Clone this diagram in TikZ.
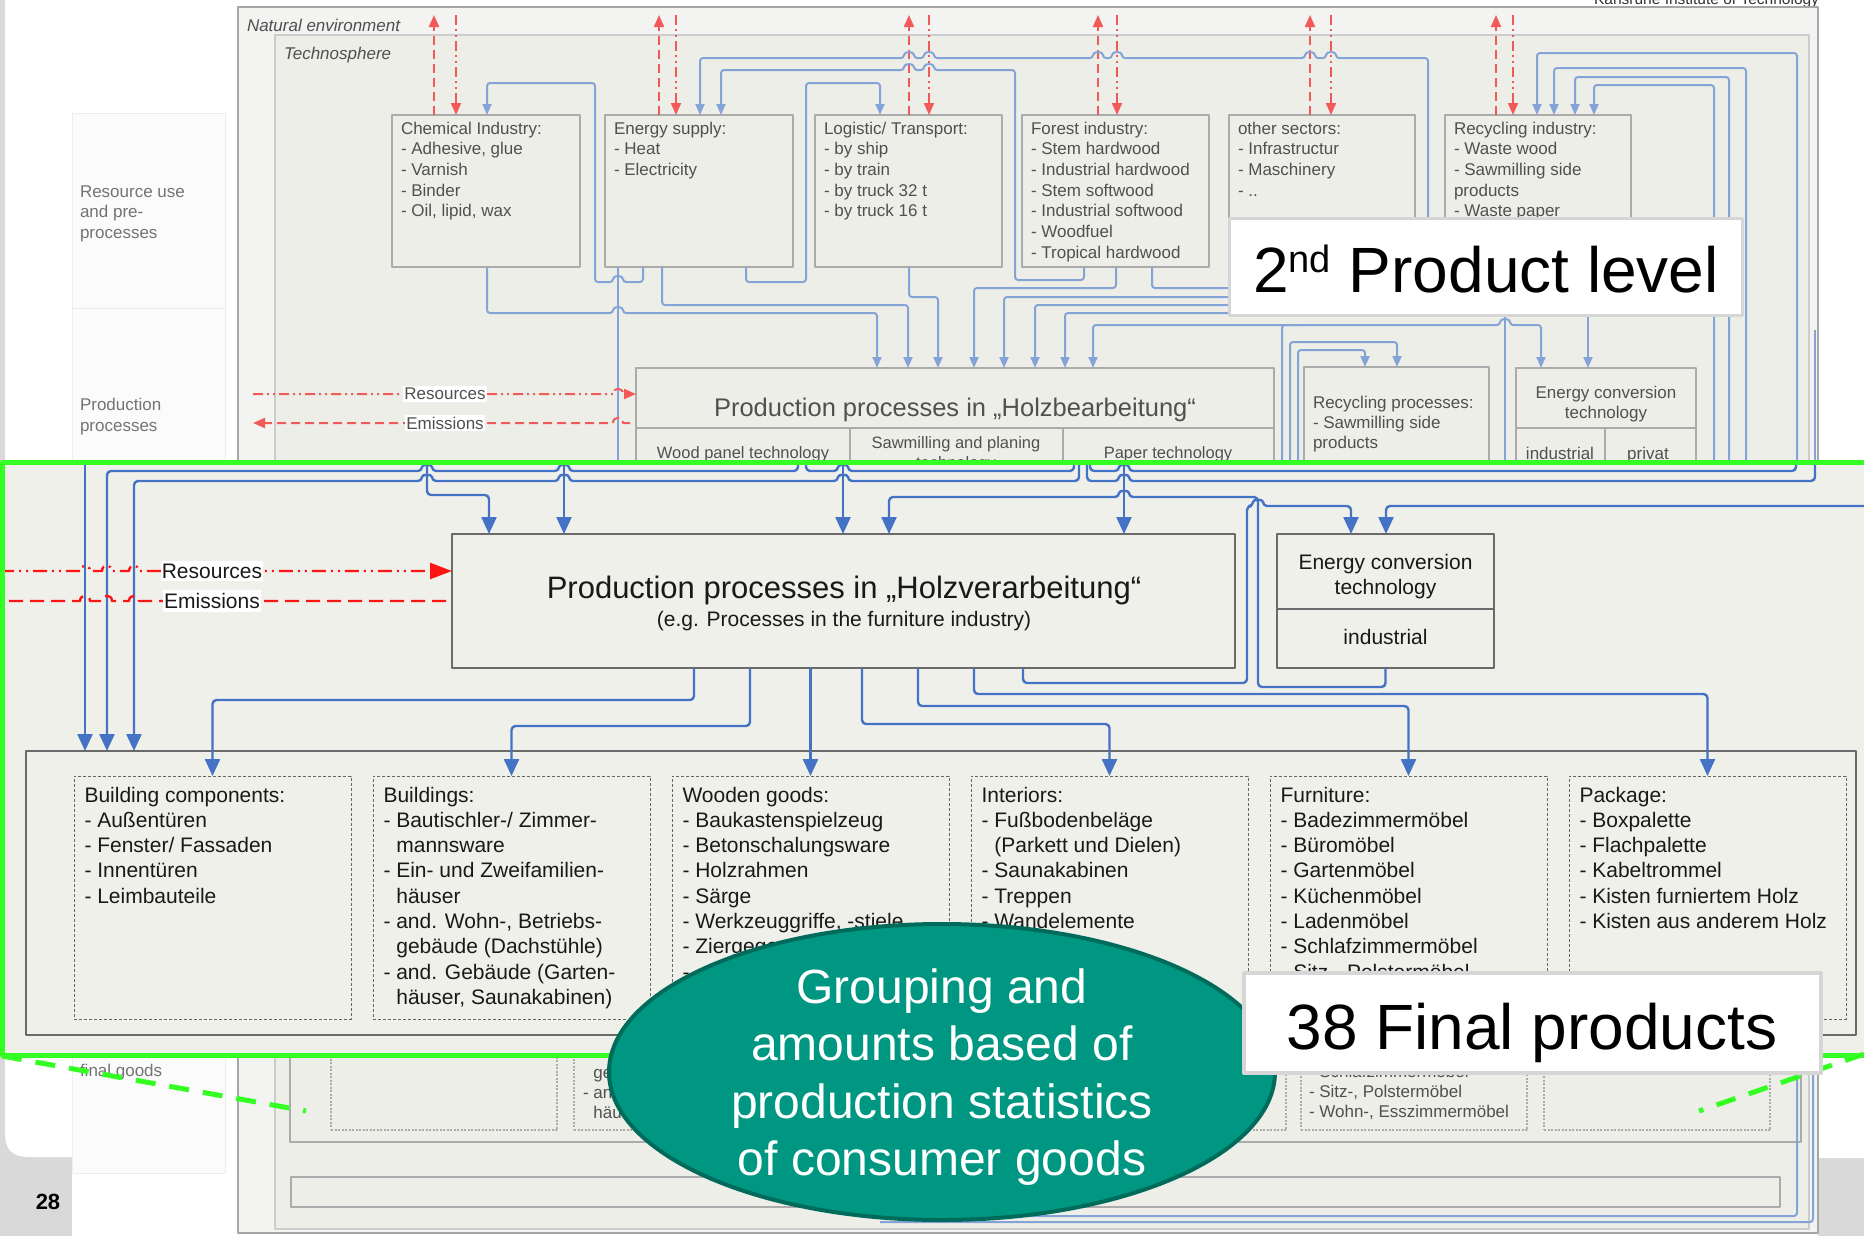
\documentclass[tikz,border=0pt]{standalone}
\usepackage{fontspec}
\setmainfont{Liberation Sans}
\usetikzlibrary{arrows.meta,shapes.geometric,fit}

\definecolor{pagegray}{HTML}{D9D9D9}
\definecolor{envfill}{HTML}{F3F3F1}
\definecolor{techfill}{HTML}{EEEEE8}
\definecolor{panelfill}{HTML}{FBFBFB}
\definecolor{zonefill}{HTML}{F0F0EA}
\definecolor{hilite}{HTML}{33FF22}
\definecolor{flow}{HTML}{4472C4}
\definecolor{fadeflow}{HTML}{84A4D8}
\definecolor{redflow}{HTML}{FF1414}
\definecolor{fadered}{HTML}{F25A5A}
\definecolor{fadeline}{HTML}{ABABAB}
\definecolor{fadetext}{HTML}{505050}
\definecolor{boxline}{HTML}{6A6A6A}
\definecolor{tealfill}{HTML}{009782}
\definecolor{tealline}{HTML}{006B5B}
\definecolor{calloutline}{HTML}{D6D6D6}

% a small arc where a horizontal line jumps over a vertical one
\newcommand{\hopR}[2]{-- ({#1-5},#2) .. controls ({#1-5},{#2-7}) and ({#1+5},{#2-7}) .. ({#1+5},#2)}
\newcommand{\hopL}[2]{-- ({#1+5},#2) .. controls ({#1+5},{#2-7}) and ({#1-5},{#2-7}) .. ({#1-5},#2)}

% lines of text, one node per line: prefix, x, first baseline, line skip, style, lines
\newcommand{\txtstack}[6]{%
  \foreach \itm [count=\k from 0] in {#6} {%
    \node[#5, anchor=base west] (#1-\k) at (#2,{#3+\k*#4}) {\itm};%
  }%
}

\begin{document}
\begin{tikzpicture}[x=1pt, y=-1pt, line join=round,
  every node/.style={inner sep=0pt, outer sep=0pt},
  crisp/.style={font=\fontsize{21}{25}\selectfont, text=black!90},
  faded/.style={font=\fontsize{17}{20}\selectfont, text=fadetext},
  fadebox/.style={draw=fadeline, line width=1.3pt, fill=techfill},
  solidbox/.style={draw=boxline, line width=1.6pt, fill=zonefill},
  dashbox/.style={draw=black!60, line width=0.9pt, dash pattern=on 3pt off 2pt},
  flowline/.style={draw=flow, line width=2.4pt, rounded corners=4pt},
  flowarrow/.style={flowline, -{Triangle[width=15pt,length=17pt]}},
  fline/.style={draw=fadeflow, line width=2pt, rounded corners=3pt},
  farrow/.style={fline, -{Triangle[width=9pt,length=11pt]}},
  fboth/.style={fline, {Triangle[width=9pt,length=11pt]}-{Triangle[width=9pt,length=11pt]}},
  resline/.style={draw=redflow, line width=2.4pt, dash pattern=on 14pt off 5pt on 2pt off 5pt on 2pt off 5pt},
  emline/.style={draw=redflow, line width=2.4pt, dash pattern=on 14pt off 7pt},
  fres/.style={draw=fadered, line width=2pt, dash pattern=on 10pt off 4pt on 2pt off 4pt on 2pt off 4pt},
  fem/.style={draw=fadered, line width=2pt, dash pattern=on 9pt off 5pt},
  fredarrow/.style={-{Triangle[width=10pt,length=12pt]}},
  greendash/.style={draw=hilite, line width=5pt, dash pattern=on 20pt off 14pt},
]
\useasboundingbox (0,0) rectangle (1864,1235);
\clip (0,0) rectangle (1864,1235);

% ---------- slide page ----------
\fill[pagegray] (-5,-5) rectangle (1870,1240);
\fill[white] (5,-5) -- (5,1132) .. controls (5,1150) and (12,1157) .. (30,1157)
  -- (72,1157) -- (72,1240) -- (1818,1240) -- (1818,1158) -- (1870,1158) -- (1870,-5) -- cycle;
\node[font=\fontsize{15.5}{16}\selectfont, text=black!80, anchor=base east] (kit) at (1819,4) {Karlsruhe Institute of Technology};
\node[font=\bfseries\fontsize{22}{22}\selectfont, anchor=base] (pageno) at (48,1209) {28};

% ---------- row labels ----------
\node[fit={(72,113) (225,1173)}, draw=black!7, line width=1pt, fill=panelfill] (panel) {};
\draw[black!8, line width=1pt] (panel.west |- 0,308) -- (panel.east |- 0,308);
\txtstack{lblres}{80}{197}{20.5}{faded, text=black!55}{{Resource use},{and pre-},{processes}}
\txtstack{lblprod}{80}{410}{21}{faded, text=black!55}{{Production},{processes}}
\txtstack{lblfin}{80}{1076}{21}{faded, text=black!55}{{final goods}}

% ---------- system frames ----------
\node[fit={(238,7) (1818,1233)}, draw=black!35, line width=1.5pt, fill=envfill] (natenv) {};
\node[fit={(275,35) (1809,1229)}, draw=black!20, line width=1.2pt, fill=techfill] (techno) {};
\node[faded, font=\itshape\fontsize{17}{20}\selectfont, anchor=base west] (natlbl) at (247,31) {Natural environment};
\node[faded, font=\itshape\fontsize{17}{20}\selectfont, anchor=base west] (techlbl) at (284,59) {Technosphere};

% ---------- resource and pre-process boxes ----------
\node[fit={(392,115) (580,267)}, fadebox] (chem) {};
\node[fit={(605,115) (793,267)}, fadebox] (esup) {};
\node[fit={(815,115) (1002,267)}, fadebox] (logi) {};
\node[fit={(1022,115) (1209,267)}, fadebox] (forest) {};
\node[fit={(1229,115) (1415,267)}, fadebox] (other) {};
\node[fit={(1445,115) (1631,267)}, fadebox] (recyc) {};
\txtstack{chemtxt}{401}{134}{20.7}{faded}{{Chemical Industry:},{- Adhesive, glue},{- Varnish},{- Binder},{- Oil, lipid, wax}}
\txtstack{esuptxt}{614}{134}{20.7}{faded}{{Energy supply:},{- Heat},{- Electricity}}
\txtstack{logitxt}{824}{134}{20.7}{faded}{{Logistic/ Transport:},{- by ship},{- by train},{- by truck 32 t},{- by truck 16 t}}
\txtstack{foresttxt}{1031}{134}{20.7}{faded}{{Forest industry:},{- Stem hardwood},{- Industrial hardwood},{- Stem softwood},{- Industrial softwood},{- Woodfuel},{- Tropical hardwood}}
\txtstack{othertxt}{1238}{134}{20.7}{faded}{{other sectors:},{- Infrastructur},{- Maschinery},{- ..}}
\txtstack{recyctxt}{1454}{134}{20.7}{faded}{{Recycling industry:},{- Waste wood},{- Sawmilling side},{products},{- Waste paper}}

% exchanges with the natural environment
\foreach \b/\upx/\dnx in {chem/434/456, esup/659/676, logi/909/929, forest/1098/1117, other/1310/1331, recyc/1496/1513} {
  \draw[fem, fredarrow] (\b.north -| \upx,0) -- (\upx,15);
  \draw[fres, fredarrow] (\dnx,15) -- (\b.north -| \dnx,0);
}

% ---------- upper production row ----------
\node[fit={(636,368) (1274,480)}, fadebox] (holzb) {};
\draw[fadeline, line width=1.3pt] (holzb.west |- 0,428) -- (holzb.east |- 0,428);
\draw[fadeline, line width=1.3pt] (850,428) -- (850,480);
\draw[fadeline, line width=1.3pt] (1063,428) -- (1063,480);
\node[faded, font=\fontsize{25.5}{28}\selectfont, anchor=base] (holzbtitle) at (955,416) {Production processes in „Holzbearbeitung“};
\node[faded, font=\fontsize{16.5}{20}\selectfont, anchor=base] (wpt) at (743,458) {Wood panel technology};
\node[faded, font=\fontsize{16.5}{20}\selectfont, anchor=base] (smp) at (956,448) {Sawmilling and planing};
\node[faded, font=\fontsize{16.5}{20}\selectfont, anchor=base] (smpb) at (956,468) {technology};
\node[faded, font=\fontsize{16.5}{20}\selectfont, anchor=base] (ppt) at (1168,458) {Paper technology};

\node[fit={(1304,367) (1489,480)}, fadebox] (recproc) {};
\txtstack{rptxt}{1313}{408}{20}{faded}{{Recycling processes:},{- Sawmilling side},{products}}

\node[fit={(1516,368) (1696,480)}, fadebox] (encup) {};
\draw[fadeline, line width=1.3pt] (encup.west |- 0,428) -- (encup.east |- 0,428);
\draw[fadeline, line width=1.3pt] (1605,428) -- (1605,480);
\node[faded, anchor=base] (encupa) at (1606,398) {Energy conversion};
\node[faded, anchor=base] (encupb) at (1606,418) {technology};
\node[faded, anchor=base] (encupc) at (1560,459) {industrial};
\node[faded, anchor=base] (encupd) at (1648,459) {privat};

% upper flows
\draw[fline] (esup.south -| 618,0) -- (618,462);
\draw[farrow] (chem.south -| 487,0) -- (487,313) \hopR{618}{313} -- (877,313) -- (holzb.north -| 877,0);
\draw[farrow] (esup.south -| 662,0) -- (662,305) -- (908,305) -- (holzb.north -| 908,0);
\draw[farrow] (esup.south -| 643,0) -- (643,282) \hopL{618}{282} -- (595,282) -- (595,83) -- (487,83) -- (chem.north -| 487,0);
\draw[farrow] (logi.south -| 909,0) -- (909,297) -- (938,297) -- (holzb.north -| 938,0);
\draw[farrow] (esup.south -| 746,0) -- (746,282) -- (806,282) -- (806,83) -- (880,83) -- (logi.north -| 880,0);
\draw[farrow] (1428,240) -- (1428,58) \hopL{1331}{58} \hopL{1310}{58} \hopL{1117}{58} \hopL{1098}{58} \hopL{929}{58} \hopL{909}{58} -- (700,58) -- (esup.north -| 700,0);
\draw[farrow] (forest.south -| 1084,0) -- (1084,280) -- (1015,280) -- (1015,70) \hopL{929}{70} \hopL{909}{70} -- (721,70) -- (esup.north -| 721,0);
\draw[farrow] (forest.south -| 1116,0) -- (1116,288) -- (974,288) -- (holzb.north -| 974,0);
\draw[fline] (forest.south -| 1152,0) -- (1152,288) -- (1240,288);
\draw[farrow] (1240,297) -- (1004,297) -- (holzb.north -| 1004,0);
\draw[farrow] (1240,305) -- (1035,305) -- (holzb.north -| 1035,0);
\draw[farrow] (1240,313) -- (1065,313) -- (holzb.north -| 1065,0);
\draw[fboth] (holzb.north -| 1093,0) -- (1093,325) \hopR{1505}{325} -- (1541,325) -- (encup.north -| 1541,0);
\draw[fline] (1282,462) -- (1282,325) -- (1300,325);
\draw[fline] (1505,300) -- (1505,462);
\draw[farrow] (1588,300) -- (encup.north -| 1588,0);
\draw[farrow] (1298,462) -- (1298,350) -- (1365,350) -- (recproc.north -| 1365,0);
\draw[farrow] (1290,462) -- (1290,342) -- (1397,342) -- (recproc.north -| 1397,0);
\draw[farrow] (1797,462) -- (1797,53) -- (1537,53) -- (recyc.north -| 1537,0);
\draw[farrow] (1746,462) -- (1746,68) -- (1554,68) -- (recyc.north -| 1554,0);
\draw[farrow] (1729,462) -- (1729,77) -- (1575,77) -- (recyc.north -| 1575,0);
\draw[farrow] (1714,462) -- (1714,85) -- (1594,85) -- (recyc.north -| 1594,0);
\draw[fline] (1815,330) -- (1815,462);

% upper resources and emissions
\draw[fres, fredarrow] (253,394) \hopR{618}{394} -- (holzb.west |- 0,394);
\draw[fem, fredarrow] (630,423) \hopL{618}{423} -- (253,423);
\node[faded, fill=white, inner xsep=1pt, inner ysep=2pt] (resup) at (445,394) {Resources};
\node[faded, fill=white, inner xsep=1pt, inner ysep=2pt] (emup) at (445,423) {Emissions};

% ---------- lower final goods row ----------
\node[fit={(290,1000) (1801,1142)}, fadebox] (fgfade) {};
\foreach \i/\x in {1/331, 2/574, 3/817, 4/1060, 5/1301, 6/1544}
  \node[fit={(\x,1000) ({\x+226},1130)}, draw=fadeline, line width=1.2pt, dash pattern=on 2pt off 1.5pt] (fgf\i) {};
\txtstack{fgftwo}{583}{1078}{20}{faded}{{\phantom{-\ }gebäude (Dachstühle)},{- and. Gebäude (Garten-},{\phantom{-\ }häuser, Saunakabinen)}}
\txtstack{fgffive}{1309}{1077}{20}{faded}{{- Schlafzimmermöbel},{- Sitz-, Polstermöbel},{- Wohn-, Esszimmermöbel}}
\node[fit={(291,1177) (1780,1207)}, fadebox] (fgfadeb) {};
\draw[fline] (1797,1050) -- (1797,1216) -- (880,1216);
\draw[fline] (1813,1050) -- (1813,1222) -- (880,1222);

% ---------- call-out ----------
\node[draw=calloutline, line width=3pt, fill=white, minimum width=513pt, minimum height=97pt] (level2) at (1485.5,266.5) {};
\node[font=\fontsize{64}{64}\selectfont, anchor=base] (level2txt) at (1486,292) {2\raisebox{20pt}{\fontsize{38}{38}\selectfont nd} Product level};

% ---------- enlarged production section ----------
\fill[zonefill] (-5,462) rectangle (1870,1055);

\node[fit={(452,534) (1235,668)}, solidbox] (holz) {};
\node[crisp, font=\fontsize{31}{34}\selectfont, anchor=base] (holztitle) at (844,598) {Production processes in „Holzverarbeitung“};
\node[crisp, anchor=base] (holzsub) at (844,626.5) {(e.g. Processes in the furniture industry)};

\node[fit={(1277,534) (1494,668)}, solidbox] (enc) {};
\draw[boxline, line width=1.6pt] (enc.west |- 0,609) -- (enc.east |- 0,609);
\node[crisp, anchor=base] (enct1) at (1385.5,569) {Energy conversion};
\node[crisp, anchor=base] (enct2) at (1385.5,594) {technology};
\node[crisp, anchor=base] (enct3) at (1385.5,644) {industrial};

\node[fit={(26,751) (1856,1035)}, solidbox] (fgall) {};
\foreach \i/\x in {1/74, 2/373, 3/672, 4/971, 5/1270, 6/1569}
  \node[fit={(\x,776) ({\x+277},1019)}, dashbox] (fg\i) {};

\txtstack{fgonetxt}{84.5}{802}{25.3}{crisp}{{Building components:},{- Außentüren},{- Fenster/ Fassaden},{- Innentüren},{- Leimbauteile}}
\txtstack{fgtwotxt}{383.5}{802}{25.3}{crisp}{{Buildings:},{- Bautischler-/ Zimmer-},{\phantom{-\ }mannsware},{- Ein- und Zweifamilien-},{\phantom{-\ }häuser},{- and. Wohn-, Betriebs-},{\phantom{-\ }gebäude (Dachstühle)},{- and. Gebäude (Garten-},{\phantom{-\ }häuser, Saunakabinen)}}
\txtstack{fgthreetxt}{682.5}{802}{25.3}{crisp}{{Wooden goods:},{- Baukastenspielzeug},{- Betonschalungsware},{- Holzrahmen},{- Särge},{- Werkzeuggriffe, -stiele},{- Ziergegenstände},{-}}
\txtstack{fgfourtxt}{981.5}{802}{25.3}{crisp}{{Interiors:},{- Fußbodenbeläge},{\phantom{-\ }(Parkett und Dielen)},{- Saunakabinen},{- Treppen},{- Wandelemente}}
\txtstack{fgfivetxt}{1280.5}{802}{25.3}{crisp}{{Furniture:},{- Badezimmermöbel},{- Büromöbel},{- Gartenmöbel},{- Küchenmöbel},{- Ladenmöbel},{- Schlafzimmermöbel},{- Sitz-, Polstermöbel},{- Wohn-, Esszimmermöbel}}
\txtstack{fgsixtxt}{1579.5}{802}{25.3}{crisp}{{Package:},{- Boxpalette},{- Flachpalette},{- Kabeltrommel},{- Kisten furniertem Holz},{- Kisten aus anderem Holz}}

% flows entering from the upper section
\draw[flowarrow] (85,462) -- (fgall.north -| 85,0);
\draw[flowarrow] (798,462) -- (798,471) \hopL{564}{471} \hopL{427}{471} -- (107,471) -- (fgall.north -| 107,0);
\draw[flowarrow] (1079,462) -- (1079,481) \hopL{843}{481} \hopL{564}{481} \hopL{427}{481} -- (134,481) -- (fgall.north -| 134,0);
\draw[flowline] (806,462) -- (806,471) \hopR{843}{471} -- (1074,471) -- (1074,462);
\draw[flowline] (1090,462) -- (1090,471) \hopR{1124}{471} -- (1796,471) -- (1796,462);
\draw[flowline] (1087,462) -- (1087,481) \hopR{1124}{481} -- (1815,481) -- (1815,462);
\draw[flowarrow] (427,462) -- (427,495) -- (489,495) -- (holz.north -| 489,0);
\draw[flowarrow] (564,462) -- (holz.north -| 564,0);
\draw[flowarrow] (843,462) -- (holz.north -| 843,0);
\draw[flowarrow] (1124,462) -- (holz.north -| 1124,0);

% exchanges between wood processing and energy conversion
\draw[flowarrow] (enc.south) -- (1385.5,687) -- (1258,687) -- (1258,497) \hopL{1124}{497} -- (889,497) -- (holz.north -| 889,0);
\draw[flowarrow] (holz.south -| 1023,0) -- (1023,683) -- (1247,683) -- (1247,506) \hopR{1258}{506} -- (1351,506) -- (enc.north -| 1351,0);
\draw[flowarrow] (1870,506) -- (1386,506) -- (enc.north -| 1386,0);

% outputs to the final goods
\draw[flowarrow] (holz.south -| 694,0) |- (fg1.north |- 0,700) -- (fg1.north);
\draw[flowarrow] (holz.south -| 750,0) |- (fg2.north |- 0,726) -- (fg2.north);
\draw[flowarrow] (holz.south -| 810.5,0) -- (fg3.north);
\draw[flowarrow] (holz.south -| 862,0) |- (fg4.north |- 0,724) -- (fg4.north);
\draw[flowarrow] (holz.south -| 918,0) |- (fg5.north |- 0,706) -- (fg5.north);
\draw[flowarrow] (holz.south -| 974,0) |- (fg6.north |- 0,694) -- (fg6.north);

% resources and emissions
\draw[resline, -{Triangle[width=16pt,length=22pt]}] (0,571) \hopR{85}{571} \hopR{107}{571} \hopR{134}{571} -- (holz.west |- 0,571);
\draw[emline] (446,601) \hopL{134}{601} \hopL{107}{601} \hopL{85}{601} -- (8,601);
\node[crisp, fill=white, inner xsep=1pt, inner ysep=3pt] (reslbl) at (212,571) {Resources};
\node[crisp, fill=white, inner xsep=1pt, inner ysep=3pt] (emlbl) at (212,601) {Emissions};

% ---------- highlight frame ----------
\draw[hilite, line width=5pt] (2.5,462.5) rectangle (1880,1055);
\coordinate (zoomL) at (2,1056);
\coordinate (zoomLend) at (306,1111);
\coordinate (zoomR) at (1864,1054);
\coordinate (zoomRend) at (1699,1111);
\draw[greendash] (zoomL) -- (zoomLend);
\draw[greendash] (zoomR) -- (zoomRend);

% ---------- notes ----------
\node[ellipse, fill=tealfill, draw=tealline, line width=4pt, minimum width=666pt, minimum height=296pt] (note) at (942,1072) {};
\node[text=white, font=\fontsize{48}{57.5}\selectfont, align=center] (notetxt) at (942,1077) {Grouping and\\amounts based of\\production statistics\\of consumer goods};

\node[draw=calloutline, line width=4pt, fill=white, minimum width=577pt, minimum height=100pt] (final38) at (1532.5,1023) {};
\node[font=\fontsize{64}{64}\selectfont, anchor=base] (final38txt) at (1532,1049) {38 Final products};
\end{tikzpicture}
\end{document}
